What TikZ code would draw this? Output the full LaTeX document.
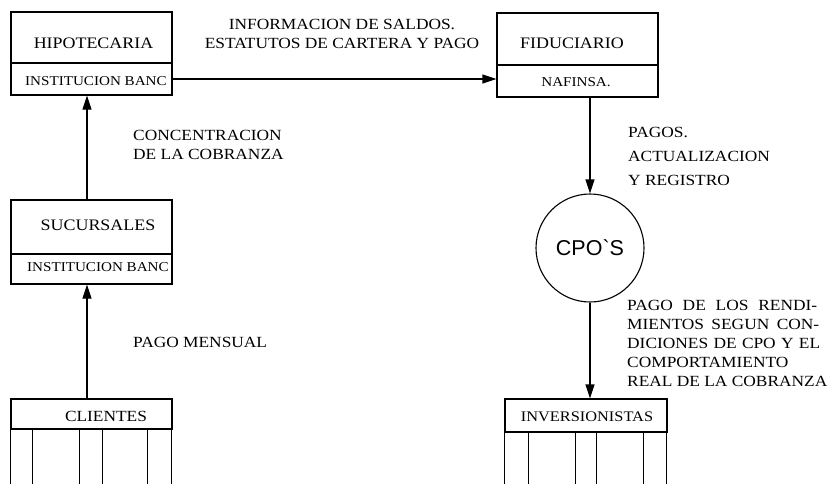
\documentclass[tikz,border=0pt]{standalone}
\usepackage{fontspec}
\setmainfont{Liberation Serif}[FakeStretch=1.12]
\newfontfamily\circfont{Liberation Sans}
\usetikzlibrary{arrows.meta}

\begin{document}
\begin{tikzpicture}[x=1pt,y=-1pt,
  cell/.style={draw,line width=1.1pt,inner sep=0pt,minimum width=161pt},
  title/.style={font=\fontsize{16}{18}\selectfont,inner sep=0pt},
  sub/.style={font=\fontsize{13.5}{15}\selectfont,inner sep=0pt},
  lbl/.style={font=\fontsize{15.5}{19}\selectfont,inner sep=0pt,align=left},
  flow/.style={line width=1.1pt,-{Triangle[length=14pt,width=9pt]}},
  leg/.style={line width=1.1pt}]
\useasboundingbox (0,0) rectangle (834,483);

% mortgage institution
\node[cell,minimum height=51pt] (hipo) at (91.5,37.5) {};
\node[cell,minimum height=32pt] (hipob) at (91.5,79) {};
\node[title] (hipot) at (93.5,43) {HIPOTECARIA};
\node[sub,anchor=west] (hipos) at (25,81) {INSTITUCION BANC};

% trustee
\node[cell,minimum height=52pt] (fid) at (577.5,39) {};
\node[cell,minimum height=32pt] (fidb) at (577.5,81) {};
\node[title] (fidt) at (572,43) {FIDUCIARIO};
\node[sub] (fids) at (576,82) {NAFINSA.};

% branches
\node[cell,minimum height=54pt] (suc) at (91.5,227) {};
\node[cell,minimum height=30pt] (sucb) at (91.5,269) {};
\node[title] (suct) at (98,225) {SUCURSALES};
\node[sub,anchor=west] (sucs) at (27,267) {INSTITUCION BANC};

% clients table
\node[cell,minimum height=30pt] (cli) at (91.5,414) {};
\node[title,font=\fontsize{15.5}{18}\selectfont] (clit) at (106,416) {CLIENTES};
\foreach \dx in {0,22,69,92,137,161}
  \draw[leg] ([xshift=\dx pt]cli.south west) -- ++(0,54);

% certificates
\node[draw,circle,line width=1.1pt,minimum size=108pt,inner sep=0pt,
      font=\circfont\fontsize{21.5}{24}\selectfont] (cpo) at (590,248) {CPO`S};

% investors table
\node[cell,minimum width=162pt,minimum height=33pt] (inv) at (586,415.5) {};
\node[title,font=\fontsize{14.6}{17}\selectfont] (invt) at (587,417) {INVERSIONISTAS};
\foreach \dx in {0,24,71,92,139,162}
  \draw[leg] ([xshift=\dx pt]inv.south west) -- ++(0,51);

% flows
\draw[flow] (hipob.east) -- (hipob.east -| fidb.west);
\draw[flow] ([xshift=-4.5pt]suc.north) -- ([xshift=-4.5pt]hipob.south);
\draw[flow] ([xshift=-4.5pt]cli.north) -- ([xshift=-4.5pt]sucb.south);
\draw[flow] (fidb.south -| cpo.north) -- (cpo.north);
\draw[flow] (cpo.south) -- (cpo.south |- inv.north);

% flow labels
\node[lbl,align=center] (linfo) at (342,34) {INFORMACION DE SALDOS.\\ESTATUTOS DE CARTERA Y PAGO};
\node[lbl,anchor=west] (lconc) at (133,145) {CONCENTRACION\\DE LA COBRANZA};
\node[lbl,anchor=west] (lmens) at (133,342) {PAGO MENSUAL};
\node[lbl,anchor=west,font=\fontsize{15.5}{24}\selectfont] (lpagos) at (628,156) {PAGOS.\\ACTUALIZACION\\Y REGISTRO};
\node[lbl,anchor=west] (lrend) at (627,343) {%
  \makebox[190pt][s]{PAGO DE LOS RENDI-}\\
  \makebox[192pt][s]{MIENTOS SEGUN CON-}\\
  \makebox[193pt][s]{DICIONES DE CPO Y EL}\\
  COMPORTAMIENTO\\
  REAL DE LA COBRANZA};
\end{tikzpicture}
\end{document}
